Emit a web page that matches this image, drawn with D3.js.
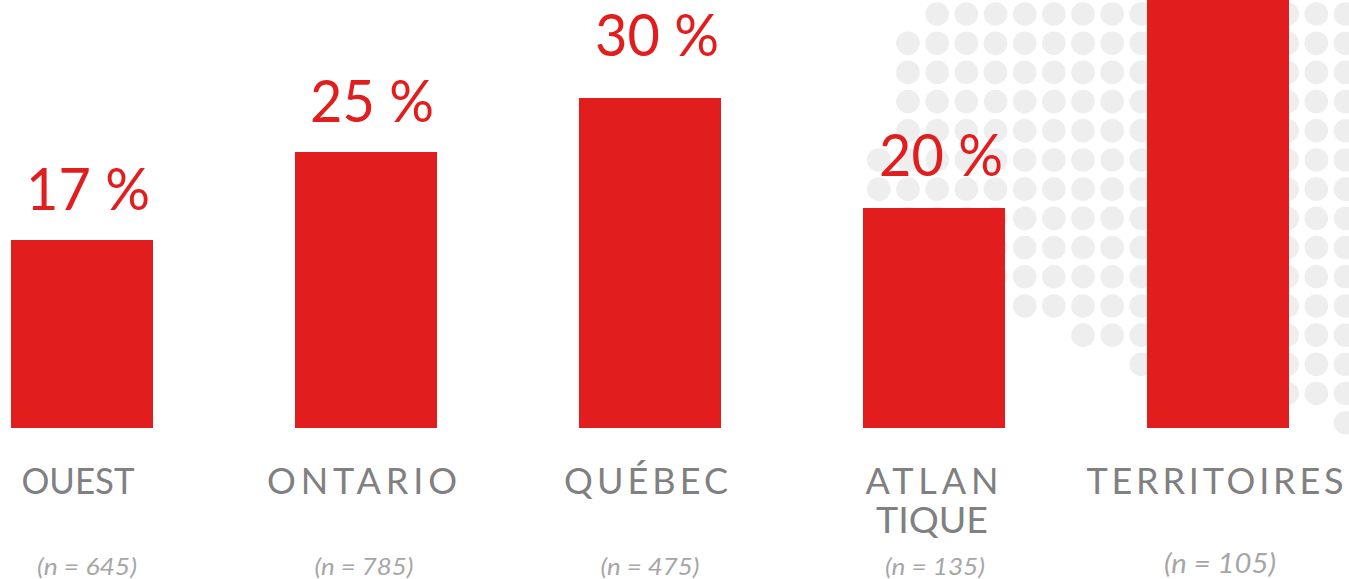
<!DOCTYPE html>
<html>
  <head>
    <meta charset="UTF-8" />
    <title>Régions</title>
    <script src="https://d3js.org/d3.v7.min.js"></script>
    <style>
      body {
        margin: 0;
        background-color: #fff;
        overflow: hidden;
      }
      svg {
        display: block;
      }
      text {
        font-family: Lato, "Open Sans", sans-serif;
      }
    </style>
  </head>
  <body>
    <div id="chart"></div>
    <script>
      // the last bar runs off the top of the picture, its value is a guess
      const regions = ["OUEST", "ONTARIO", "QUÉBEC", "ATLANTIQUE", "TERRITOIRES"];
      const values = [17.1, 25.1, 30, 20, 42];
      const valueLabels = ["17 %", "25 %", "30 %", "20 %", ""];
      const regionLines = [["OUEST"], ["ONTARIO"], ["QUÉBEC"], ["ATLAN", "TIQUE"], ["TERRITOIRES"]];
      const sampleLabels = ["(n = 645)", "(n = 785)", "(n = 475)", "(n = 135)", "(n = 105)"];

      // dotted map behind the bars: first and last column of each row
      const dotRowFirst = [1, 0, 0, 0, 0, -1, -1, 0, 0, 0, 4, 6, 8, 9, 15];
      const dotRowLast = [15, 15, 15, 15, 15, 15, 15, 15, 15, 15, 15, 15, 15, 15, 15];

      // label placement
      const valueCenters = [88, 372, 657, 941];
      const valueBaselines = [210, 122, 56, 176];
      const valueWidths = [124, 124, 124, 124];
      const regionCenters = [78, 362, 646, 932, 1215];
      const regionWidths = [[113], [190], [164], [133, 112], [257]];
      const regionAdjust = [["spacingAndGlyphs"], ["spacing"], ["spacing"], ["spacing", "spacingAndGlyphs"], ["spacing"]];
      const sampleCenters = [87, 364, 650, 935, 1220];
      const sampleWidths = [100, 99, 99, 100, 112];
      const sampleBaselines = [575, 575, 575, 575, 573];
      const sampleSizes = [24, 24, 24, 24, 27];

      const width = 1349;
      const height = 579;
      const baseline = 428;

      const svg = d3
        .select("#chart")
        .append("svg")
        .attr("width", width)
        .attr("height", height);

      const x = d3.scaleBand().domain(regions).range([11, 1289]).padding(0.5).paddingOuter(0);
      const y = d3.scaleLinear().domain([0, 30]).range([baseline, 98]);

      const dotX = d3.scaleLinear().domain([0, 15]).range([908, 1345.5]);
      const dotY = d3.scaleLinear().domain([0, 14]).range([14, 422.7]);

      const dots = [];
      dotRowFirst.forEach((first, row) => {
        d3.range(first, dotRowLast[row] + 1).forEach((col) => dots.push({ row, col }));
      });

      svg
        .append("g")
        .selectAll("circle")
        .data(dots)
        .enter()
        .append("circle")
        .attr("cx", (d) => dotX(d.col))
        .attr("cy", (d) => dotY(d.row))
        .attr("r", 11.8)
        .attr("fill", "#eeeeee");

      svg
        .append("g")
        .selectAll("rect")
        .data(regions)
        .enter()
        .append("rect")
        .attr("x", (d) => x(d))
        .attr("y", (d, i) => Math.round(y(values[i])))
        .attr("width", x.bandwidth())
        .attr("height", (d, i) => baseline - Math.round(y(values[i])))
        .attr("fill", "#e21d1e");

      svg
        .append("g")
        .selectAll("text")
        .data(valueLabels.filter((d) => d))
        .enter()
        .append("text")
        .attr("x", (d, i) => valueCenters[i])
        .attr("y", (d, i) => valueBaselines[i])
        .attr("text-anchor", "middle")
        .attr("font-size", 59)
        .attr("textLength", (d, i) => valueWidths[i])
        .attr("lengthAdjust", "spacingAndGlyphs")
        .attr("fill", "#e21d1e")
        .text((d) => d);

      regionLines.forEach((lines, i) => {
        lines.forEach((line, j) => {
          svg
            .append("text")
            .attr("x", regionCenters[i])
            .attr("y", 494 + j * 39)
            .attr("text-anchor", "middle")
            .attr("font-size", 36)
            .attr("textLength", regionWidths[i][j])
            .attr("lengthAdjust", regionAdjust[i][j])
            .attr("fill", "#808080")
            .text(line);
        });
      });

      svg
        .append("g")
        .selectAll("text")
        .data(sampleLabels)
        .enter()
        .append("text")
        .attr("x", (d, i) => sampleCenters[i])
        .attr("y", (d, i) => sampleBaselines[i])
        .attr("text-anchor", "middle")
        .attr("font-size", (d, i) => sampleSizes[i])
        .attr("font-style", "italic")
        .attr("textLength", (d, i) => sampleWidths[i])
        .attr("lengthAdjust", "spacingAndGlyphs")
        .attr("fill", "#a6a6a6")
        .text((d) => d);
    </script>
  </body>
</html>
